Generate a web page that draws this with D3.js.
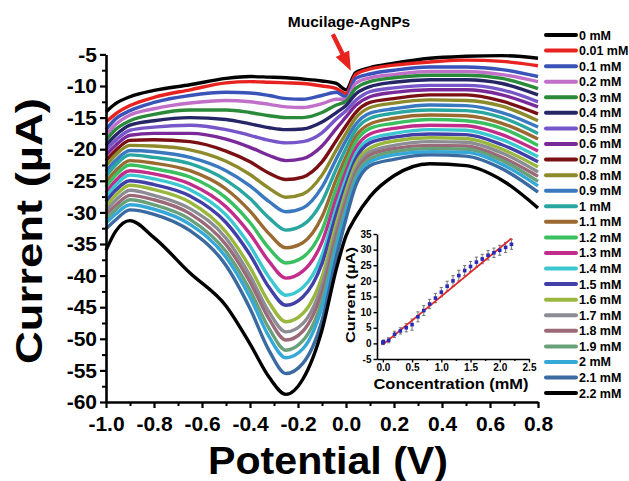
<!DOCTYPE html>
<html><head><meta charset="utf-8">
<script src="https://cdn.jsdelivr.net/npm/d3@7"></script>
<style>
body{margin:0;background:#fff}
svg{display:block}
text{font-family:"Liberation Sans",Arial,Helvetica,sans-serif;font-weight:bold;fill:#000}
</style>
</head><body>
<svg id="chart" width="629" height="481"></svg>
<script>
// ---------- DATA ----------
const potentials = [-1.0,-0.96,-0.9,-0.8,-0.65,-0.5,-0.4,-0.32,-0.25,-0.18,-0.1,-0.04,0.0,0.04,0.1,0.2,0.35,0.5,0.65,0.8];
const concLabels = ["0 mM","0.01 mM","0.1 mM","0.2 mM","0.3 mM","0.4 mM","0.5 mM","0.6 mM","0.7 mM","0.8 mM","0.9 mM","1 mM","1.1 mM","1.2 mM","1.3 mM","1.4 mM","1.5 mM","1.6 mM","1.7 mM","1.8 mM","1.9 mM","2 mM","2.1 mM","2.2 mM"];
const seriesColors = ["#000000","#e8231f","#3a53b8","#c070c8","#2a8a3a","#262566","#7656c8","#7a2a98","#7a1014","#8c8a2a","#3a78c0","#2aa6a0","#9a6a30","#3ac060","#c22c8a","#3cc8d0","#4040a8","#9ab840","#8c8c94","#9a6a78","#68a07a","#35a8d8","#3a6aa0","#000000"];

const i_0mM    = [-14.1,-12.8,-11.7,-10.7,-9.8,-8.8,-8.5,-8.6,-8.7,-8.9,-9.2,-9.6,-10.6,-7.9,-7.1,-6.4,-5.6,-5.3,-5.2,-5.6];
const i_0_01mM = [-15.7,-14.4,-13.1,-11.8,-10.6,-9.5,-9.3,-9.4,-9.5,-9.6,-10.0,-10.4,-11.2,-8.2,-7.3,-6.7,-6.2,-5.9,-6.1,-6.8];
const i_0_1mM  = [-16.9,-15.2,-13.9,-12.6,-11.5,-11.0,-11.1,-11.5,-12.0,-12.1,-11.5,-11.0,-11.7,-8.8,-8.1,-7.5,-7.0,-7.0,-7.4,-8.5];
const i_0_2mM  = [-17.8,-16.1,-14.6,-13.6,-12.7,-12.3,-12.5,-12.9,-13.3,-13.4,-12.8,-12.1,-12.1,-9.6,-8.7,-8.2,-7.7,-7.7,-8.2,-9.3];
const i_0_3mM  = [-18.6,-16.9,-15.5,-14.5,-13.8,-13.8,-14.2,-14.7,-15.0,-15.0,-14.2,-13.0,-12.4,-10.4,-9.3,-8.7,-8.3,-8.3,-8.8,-10.4];
const i_0_4mM  = [-19.4,-17.8,-16.2,-15.5,-15.0,-15.3,-16.0,-16.6,-16.9,-16.8,-15.7,-14.2,-13.1,-11.3,-10.1,-9.4,-9.0,-9.0,-9.6,-11.4];
const i_0_5mM  = [-20.1,-18.6,-17.0,-16.5,-16.2,-16.9,-17.8,-18.6,-19.0,-18.8,-17.4,-15.2,-13.9,-12.3,-10.9,-10.3,-9.9,-9.9,-10.6,-12.5];
const i_0_6mM  = [-20.9,-19.4,-17.8,-17.5,-17.5,-18.4,-19.7,-21.0,-21.8,-21.5,-19.5,-16.7,-14.9,-13.1,-11.7,-11.0,-10.6,-10.6,-11.4,-13.3];
const i_0_7mM  = [-21.8,-20.2,-18.6,-18.5,-18.8,-20.3,-22.0,-23.8,-24.8,-24.4,-22.0,-18.6,-16.3,-14.2,-12.6,-12.0,-11.4,-11.4,-12.4,-14.4];
const i_0_8mM  = [-22.6,-20.9,-19.4,-19.5,-20.1,-21.9,-24.0,-26.2,-27.6,-27.1,-24.1,-20.1,-17.5,-15.1,-13.4,-12.7,-12.2,-12.3,-13.2,-15.5];
const i_0_9mM  = [-23.5,-21.8,-20.2,-20.4,-21.3,-23.4,-25.8,-28.3,-29.9,-29.3,-26.0,-21.5,-18.6,-16.1,-14.3,-13.6,-13.0,-13.1,-14.2,-16.5];
const i_1_0mM  = [-24.3,-22.5,-20.9,-21.3,-22.3,-24.9,-27.8,-30.9,-32.8,-32.0,-28.3,-23.1,-19.9,-17.0,-15.1,-14.3,-13.8,-13.9,-15.0,-17.5];
const i_1_1mM  = [-25.2,-23.4,-21.8,-22.2,-23.4,-26.3,-29.8,-33.4,-35.6,-34.8,-30.7,-24.7,-21.2,-18.0,-16.0,-15.1,-14.6,-14.7,-15.9,-18.4];
const i_1_2mM  = [-26.0,-24.1,-22.5,-23.1,-24.4,-27.7,-31.6,-35.7,-38.0,-37.1,-32.8,-26.2,-22.3,-18.9,-16.7,-15.9,-15.3,-15.5,-16.7,-19.4];
const i_1_3mM  = [-26.9,-25.0,-23.4,-23.9,-25.5,-29.1,-33.4,-37.8,-40.4,-39.3,-34.7,-27.7,-23.5,-19.9,-17.6,-16.7,-16.2,-16.3,-17.7,-20.3];
const i_1_4mM  = [-27.6,-25.7,-24.1,-24.7,-26.4,-30.4,-35.3,-40.3,-43.1,-41.9,-36.8,-29.2,-24.6,-20.8,-18.4,-17.5,-16.9,-17.0,-18.5,-21.2];
const i_1_5mM  = [-28.3,-26.5,-25.0,-25.6,-27.4,-31.6,-36.7,-41.9,-44.7,-43.4,-38.1,-30.2,-25.6,-21.6,-19.0,-18.1,-17.6,-17.7,-19.3,-22.0];
const i_1_6mM  = [-29.1,-27.3,-25.7,-26.4,-28.4,-33.1,-38.7,-44.3,-47.3,-46.0,-40.2,-31.7,-26.6,-22.4,-19.8,-18.7,-18.2,-18.3,-20.0,-22.8];
const i_1_7mM  = [-29.8,-28.1,-26.5,-27.3,-29.4,-34.1,-40.0,-45.8,-48.9,-47.6,-41.5,-32.8,-27.6,-23.2,-20.4,-19.4,-18.8,-18.9,-20.6,-23.6];
const i_1_8mM  = [-30.4,-28.9,-27.3,-28.0,-30.2,-35.1,-41.0,-46.9,-50.2,-48.8,-42.6,-33.6,-28.3,-23.8,-20.9,-19.9,-19.4,-19.5,-21.3,-24.3];
const i_1_9mM  = [-31.1,-29.6,-28.0,-28.8,-31.1,-36.2,-42.3,-48.4,-51.8,-50.3,-44.0,-34.7,-29.2,-24.4,-21.5,-20.4,-19.9,-20.0,-21.8,-25.1];
const i_2_0mM  = [-31.7,-30.3,-28.8,-29.5,-31.9,-37.1,-43.4,-49.7,-53.0,-51.6,-45.0,-35.5,-29.9,-25.1,-22.0,-20.9,-20.4,-20.5,-22.4,-25.8];
const i_2_1mM  = [-32.6,-31.2,-29.6,-30.3,-32.9,-38.4,-45.2,-51.9,-55.5,-53.9,-47.1,-37.0,-31.0,-25.8,-22.6,-21.6,-20.9,-21.1,-23.1,-26.8];
const i_2_2mM  = [-36.0,-33.0,-31.3,-34.0,-39.6,-44.8,-50.8,-56.1,-58.8,-56.4,-48.6,-38.9,-33.7,-30.8,-27.5,-24.2,-22.3,-22.6,-24.9,-29.3];

const seriesValues = [i_0mM,i_0_01mM,i_0_1mM,i_0_2mM,i_0_3mM,i_0_4mM,i_0_5mM,i_0_6mM,i_0_7mM,i_0_8mM,i_0_9mM,i_1_0mM,i_1_1mM,i_1_2mM,i_1_3mM,i_1_4mM,i_1_5mM,i_1_6mM,i_1_7mM,i_1_8mM,i_1_9mM,i_2_0mM,i_2_1mM,i_2_2mM];

const xTickValues = [-1.0,-0.8,-0.6,-0.4,-0.2,0.0,0.2,0.4,0.6,0.8];
const yTickValues = [-60,-55,-50,-45,-40,-35,-30,-25,-20,-15,-10,-5];

// inset calibration data
const insetConc    = [0,0.01,0.1,0.2,0.3,0.4,0.5,0.6,0.7,0.8,0.9,1.0,1.1,1.2,1.3,1.4,1.5,1.6,1.7,1.8,1.9,2.0,2.1,2.2];
const insetCurrent = [0.2,0.5,1.0,2.9,4.0,5.0,6.0,8.5,10.5,12.6,14.5,16.4,18.3,20.0,21.7,23.3,24.6,26.0,27.0,28.2,29.0,29.8,30.7,31.7];
const insetError   = [0.6,0.6,0.8,1.0,1.0,1.3,1.8,1.6,1.6,1.5,1.5,1.5,1.6,1.7,1.7,1.6,1.6,1.6,1.5,1.5,1.5,1.6,1.6,1.6];
const fitConc      = [0,2.2];
const fitCurrent   = [-0.4,33.6];
const insetXTicks  = [0.0,0.5,1.0,1.5,2.0,2.5];
const insetYTicks  = [-5,0,5,10,15,20,25,30,35];

// ---------- CHART ----------
const svg = d3.select("#chart");
const x = d3.scaleLinear().domain([-1.0,0.8]).range([106,538]);
const y = d3.scaleLinear().domain([-60,-5]).range([402,54.4]);

const line = d3.line()
  .x((d,i)=>x(potentials[i]))
  .y(d=>y(d))
  .curve(d3.curveMonotoneX);

svg.append("g").selectAll("path").data(seriesValues).join("path")
  .attr("d", d=>line(d))
  .attr("fill","none")
  .attr("stroke",(d,i)=>seriesColors[i])
  .attr("stroke-width",3.4)
  .attr("stroke-linejoin","round");

// axes
function styleAxis(g, fs){
  g.select(".domain").attr("stroke","#000").attr("stroke-width",2.6);
  g.selectAll(".tick line").attr("stroke","#000").attr("stroke-width",2.2);
  g.selectAll(".tick text").attr("font-size",fs).attr("font-family",null).style("font-weight","bold");
}
const xMinor = d3.range(-9,8,2).map(v=>v/10);
const yMinor = d3.range(-57.5,-5,5);

const gxm = svg.append("g").attr("transform","translate(0,402)")
  .call(d3.axisBottom(x).tickValues(xMinor).tickFormat("").tickSize(4).tickSizeOuter(0));
gxm.select(".domain").remove();
gxm.selectAll(".tick line").attr("stroke","#000").attr("stroke-width",2);
const gym = svg.append("g").attr("transform","translate(106,0)")
  .call(d3.axisLeft(y).tickValues(yMinor).tickFormat("").tickSize(4).tickSizeOuter(0));
gym.select(".domain").remove();
gym.selectAll(".tick line").attr("stroke","#000").attr("stroke-width",2);

const gx = svg.append("g").attr("transform","translate(0,402)")
  .call(d3.axisBottom(x).tickValues(xTickValues).tickFormat(d=>d.toFixed(1)).tickSize(6).tickPadding(8).tickSizeOuter(0));
styleAxis(gx, 21);
const gy = svg.append("g").attr("transform","translate(106,0)")
  .call(d3.axisLeft(y).tickValues(yTickValues).tickFormat(d=>String(d)).tickSize(6).tickPadding(3).tickSizeOuter(0));
styleAxis(gy, 21);

// axis titles
svg.append("text").attr("transform","translate(42,231) rotate(-90)")
  .attr("text-anchor","middle").attr("font-size",36)
  .attr("textLength",266).attr("lengthAdjust","spacingAndGlyphs")
  .text("Current (\u00B5A)");
svg.append("text").attr("x",328).attr("y",474)
  .attr("text-anchor","middle").attr("font-size",38)
  .attr("textLength",240).attr("lengthAdjust","spacingAndGlyphs")
  .text("Potential (V)");

// annotation
const tail = [x(-0.055), y(-1.8)], tip = [x(0.02), y(-7.6)];
const dx = tip[0]-tail[0], dy = tip[1]-tail[1], L = Math.hypot(dx,dy);
const ux = dx/L, uy = dy/L, px = -uy, py = ux;
const hl = 19, hw = 7.5, sw = 2.2;
const bx = tip[0]-ux*hl, by = tip[1]-uy*hl;
svg.append("path").attr("fill","#e8231f").attr("d",
  `M${tail[0]+px*sw},${tail[1]+py*sw} L${bx+px*sw},${by+py*sw} L${bx+px*hw},${by+py*hw} L${tip[0]},${tip[1]} L${bx-px*hw},${by-py*hw} L${bx-px*sw},${by-py*sw} L${tail[0]-px*sw},${tail[1]-py*sw} Z`);
svg.append("text").attr("x",349).attr("y",27).attr("text-anchor","middle")
  .attr("font-size",15.5).text("Mucilage-AgNPs");

// legend
const lg = svg.append("g");
concLabels.forEach((lab,i)=>{
  const yy = 35 + i*15.57;
  lg.append("line").attr("x1",546).attr("x2",576).attr("y1",yy).attr("y2",yy)
    .attr("stroke",seriesColors[i]).attr("stroke-width",4).attr("stroke-linecap","round");
  lg.append("text").attr("x",579).attr("y",yy).attr("dy","0.36em")
    .attr("font-size",12.5).text(lab);
});

// inset
const x2 = d3.scaleLinear().domain([-0.1,2.5]).range([377,529]);
const y2 = d3.scaleLinear().domain([-5,35]).range([359,234]);
const ins = svg.append("g");
const gx2m = ins.append("g").attr("transform","translate(0,359)")
  .call(d3.axisBottom(x2).tickValues([0.25,0.75,1.25,1.75,2.25]).tickFormat("").tickSize(2).tickSizeOuter(0));
gx2m.select(".domain").remove();
gx2m.selectAll(".tick line").attr("stroke","#000").attr("stroke-width",1.4);
const gx2 = ins.append("g").attr("transform","translate(0,359)")
  .call(d3.axisBottom(x2).tickValues(insetXTicks).tickFormat(d=>d.toFixed(1)).tickSize(3.5).tickPadding(1.5).tickSizeOuter(0));
gx2.select(".domain").attr("stroke","#000").attr("stroke-width",1.6);
gx2.selectAll(".tick line").attr("stroke","#000").attr("stroke-width",1.4);
gx2.selectAll(".tick text").attr("font-size",10).attr("font-family",null);
const gy2 = ins.append("g").attr("transform","translate(377,0)")
  .call(d3.axisLeft(y2).tickValues(insetYTicks).tickFormat(d=>String(d)).tickSize(3.5).tickPadding(2).tickSizeOuter(0));
gy2.select(".domain").attr("stroke","#000").attr("stroke-width",1.6);
gy2.selectAll(".tick line").attr("stroke","#000").attr("stroke-width",1.4);
gy2.selectAll(".tick text").attr("font-size",10).attr("font-family",null);

ins.append("text").attr("transform","translate(355,295) rotate(-90)")
  .attr("text-anchor","middle").attr("font-size",13.5)
  .attr("textLength",96).attr("lengthAdjust","spacingAndGlyphs")
  .text("Current (\u00B5A)");
ins.append("text").attr("x",451).attr("y",389).attr("text-anchor","middle")
  .attr("font-size",15).attr("textLength",155).attr("lengthAdjust","spacingAndGlyphs")
  .text("Concentration (mM)");

// error bars
const eb = ins.append("g").attr("stroke","#666").attr("stroke-width",0.9);
insetConc.forEach((c,i)=>{
  const cx = x2(c), top = y2(insetCurrent[i]+insetError[i]), bot = y2(insetCurrent[i]-insetError[i]);
  eb.append("line").attr("x1",cx).attr("x2",cx).attr("y1",top).attr("y2",bot);
  eb.append("line").attr("x1",cx-1.6).attr("x2",cx+1.6).attr("y1",top).attr("y2",top);
  eb.append("line").attr("x1",cx-1.6).attr("x2",cx+1.6).attr("y1",bot).attr("y2",bot);
});
ins.append("path")
  .attr("d", d3.line().x((d,i)=>x2(fitConc[i])).y(d=>y2(d))(fitCurrent))
  .attr("stroke","#e02828").attr("stroke-width",1.8).attr("fill","none");
ins.append("g").selectAll("rect").data(insetCurrent).join("rect")
  .attr("x",(d,i)=>x2(insetConc[i])-1.8).attr("y",d=>y2(d)-1.8)
  .attr("width",3.6).attr("height",3.6).attr("fill","#2a2ab8");
</script>
</body></html>
